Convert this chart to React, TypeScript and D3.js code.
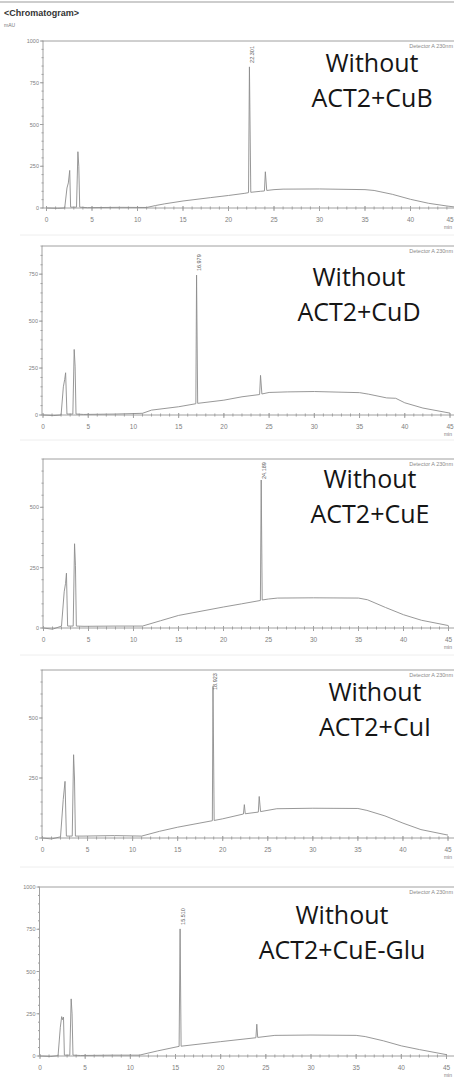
import React from "react";
import * as d3 from "d3";

// retention time (min), signal (mAU)
const traceCuB: [number, number][] = [
  [0, 0], [1.2, -2], [2.0, 0], [2.25, 120], [2.4, 150], [2.55, 225], [2.65, 5],
  [3.3, 5], [3.45, 337], [3.55, 250], [3.65, 5], [4.5, 2], [8, 4], [11, 3],
  [12, 15], [13, 25], [15, 42], [18, 62], [20, 75], [21.8, 88], [22.2, 92],
  [22.3, 845], [22.45, 94], [23.5, 100], [23.95, 102], [24.05, 217], [24.2, 105],
  [25, 110], [26, 113], [30, 114], [35, 110], [36, 105], [38, 82], [40, 52],
  [42, 28], [44, 12], [45, 5],
];

const traceCuD: [number, number][] = [
  [0, 0], [1.2, -3], [2.0, 0], [2.25, 150], [2.4, 190], [2.5, 225], [2.65, 5],
  [3.3, 5], [3.45, 349], [3.55, 260], [3.65, 5], [4.5, 3], [8, 5], [11, 9],
  [12, 26], [15, 44], [16.9, 60], [16.98, 745], [17.1, 62], [20, 79], [22, 97],
  [23.95, 109], [24.05, 211], [24.2, 112], [25, 120], [27, 123], [30, 125],
  [35, 119], [36, 111], [38, 91], [39, 89], [40, 65], [42, 37], [45, 10],
];

const traceCuE: [number, number][] = [
  [0, 0], [1, -5], [2.0, 8], [2.3, 150], [2.45, 185], [2.55, 227], [2.68, 8],
  [3.3, 8], [3.45, 349], [3.55, 260], [3.65, 8], [4.5, 7], [8, 8], [11, 8],
  [13, 30], [15, 52], [20, 87], [22, 100], [24.1, 114], [24.19, 613],
  [24.3, 116], [25, 120], [26, 124], [30, 125], [35, 124], [36, 117], [38, 85],
  [40, 55], [42, 32], [45, 10],
];

const traceCuI: [number, number][] = [
  [0, 0], [1, -4], [2.0, 5], [2.3, 160], [2.5, 236], [2.65, 8], [3.3, 8],
  [3.45, 347], [3.55, 250], [3.65, 8], [4.5, 8], [8, 10], [11, 8], [13, 28],
  [15, 45], [18.85, 72], [18.92, 632], [19.05, 73], [20, 80], [22.3, 100],
  [22.4, 139], [22.5, 101], [23.95, 108], [24.05, 173], [24.2, 110], [26, 122],
  [30, 124], [35, 123], [36, 115], [38, 92], [40, 62], [42, 35], [45, 12],
];

const traceCuEGlu: [number, number][] = [
  [0, 0], [1.2, -3], [2.0, 2], [2.25, 170], [2.4, 233], [2.5, 215], [2.6, 230],
  [2.7, 5], [3.3, 5], [3.45, 338], [3.55, 250], [3.65, 5], [4.5, 3], [8, 5],
  [11, 5], [13, 30], [15.4, 57], [15.51, 752], [15.62, 58], [20, 85],
  [23.9, 108], [24.0, 188], [24.1, 110], [26, 122], [30, 124], [35, 122],
  [36, 115], [38, 90], [40, 60], [42, 38], [45, 8],
];

const traces = [traceCuB, traceCuD, traceCuE, traceCuI, traceCuEGlu];
const sampleNames = ["ACT2+CuB", "ACT2+CuD", "ACT2+CuE", "ACT2+CuI", "ACT2+CuE-Glu"];
const peakLabels = ["22.301", "16.979", "24.189", "18.923", "15.510"];
const yMaxValues = [1000, 900, 700, 700, 1000];
const yTickValues = [
  [0, 250, 500, 750, 1000],
  [0, 250, 500, 750],
  [0, 250, 500],
  [0, 250, 500],
  [0, 250, 500, 750, 1000],
];

// pixel layout of each screenshot panel
const layouts = [
  { left: 43, x0: 46.5, x45: 456, top: 41, y0: 208, textX: 372, textY: 72 },
  { left: 42, x0: 43, x45: 450, top: 246, y0: 415, textX: 359, textY: 286 },
  { left: 43, x0: 43.5, x45: 448.5, top: 459, y0: 628, textX: 370, textY: 488 },
  { left: 42, x0: 42.5, x45: 448, top: 670, y0: 838, textX: 375, textY: 701 },
  { left: 39.5, x0: 40, x45: 446.5, top: 887, y0: 1056, textX: 342, textY: 924 },
];
const separators = [235, 440, 655, 867];

const W = 454;
const H = 1079;
const axisColor = "#a0a0a0";
const labelColor = "#808080";
const traceColor = "#8c8c8c";
const smallFont = "Liberation Sans, Arial, sans-serif";

function Panel({ i }: { i: number }) {
  const lay = layouts[i];
  const data = traces[i];
  const yMax = yMaxValues[i];
  const x = d3.scaleLinear().domain([0, 45]).range([lay.x0, lay.x45]);
  const y = d3.scaleLinear().domain([0, yMax]).range([lay.y0, lay.top]);
  const line = d3
    .line<[number, number]>()
    .x((d) => x(d[0]))
    .y((d) => y(d[1]));

  const peak = d3.greatest(data, (d) => d[1])!;
  const px = x(peak[0]) + 4.5;
  const py = Math.max(y(peak[1]) - 4, lay.top + 20);

  return (
    <g>
      {/* frame */}
      <line x1={lay.left} x2={W} y1={lay.top} y2={lay.top} stroke={axisColor} strokeWidth={1} />
      <line x1={lay.left} x2={lay.left} y1={lay.top} y2={lay.y0} stroke={axisColor} strokeWidth={1} />
      <line x1={lay.left} x2={W} y1={lay.y0} y2={lay.y0} stroke={axisColor} strokeWidth={1} />

      {/* y ticks */}
      {d3.range(0, yMax + 1, 50).map((v) => (
        <line key={"ym" + v} x1={lay.left - 1.5} x2={lay.left + 0.5} y1={y(v)} y2={y(v)} stroke={axisColor} />
      ))}
      {yTickValues[i].map((v) => (
        <g key={"y" + v}>
          <line x1={lay.left - 3} x2={lay.left} y1={y(v)} y2={y(v)} stroke={axisColor} />
          <text x={lay.left - 4} y={y(v) + 2} textAnchor="end" fontSize={5.5} fontFamily={smallFont} fill={labelColor}>
            {v}
          </text>
        </g>
      ))}

      {/* x ticks */}
      {d3.range(0, 46, 1).map((t) => (
        <line key={"xm" + t} x1={x(t)} x2={x(t)} y1={lay.y0 - 1.5} y2={lay.y0 + 1.5} stroke={axisColor} />
      ))}
      {d3.range(0, 46, 5).map((t) => (
        <g key={"x" + t}>
          <line x1={x(t)} x2={x(t)} y1={lay.y0 - 2} y2={lay.y0 + 3} stroke={axisColor} />
          <text
            x={Math.min(x(t), 450)}
            y={lay.y0 + 14}
            textAnchor="middle"
            fontSize={6.5}
            fontFamily={smallFont}
            fill={labelColor}
          >
            {t}
          </text>
        </g>
      ))}
      <text x={452} y={lay.y0 + 21} textAnchor="end" fontSize={5} fontFamily={smallFont} fill={labelColor}>
        min
      </text>
      <text x={453} y={lay.top + 7} textAnchor="end" fontSize={5.5} fontFamily={smallFont} fill="#8a8a8a">
        Detector A 230nm
      </text>

      {/* trace */}
      <path d={line(data) ?? ""} fill="none" stroke={traceColor} strokeWidth={0.9} strokeLinejoin="round" />

      {/* retention time of main peak */}
      <text
        transform={`translate(${px},${py}) rotate(-90)`}
        fontSize={5.5}
        fontFamily={smallFont}
        fill="#5a5a5a"
      >
        {peakLabels[i]}
      </text>

      {/* sample annotation */}
      <text x={lay.textX} y={lay.textY} textAnchor="middle" fontSize={25} fontFamily="Open Sans, sans-serif" fill="#151515">
        Without
      </text>
      <text x={lay.textX} y={lay.textY + 35} textAnchor="middle" fontSize={25} fontFamily="Open Sans, sans-serif" fill="#151515">
        {sampleNames[i]}
      </text>
    </g>
  );
}

export default function App() {
  return (
    <div style={{ position: "absolute", left: 0, top: 0 }}>
      <svg width={W} height={H} style={{ display: "block", background: "#fff" }}>
        <line x1={0} x2={W} y1={2} y2={2} stroke="#bdbdbd" strokeWidth={1.5} />
        {separators.map((s) => (
          <line key={s} x1={20} x2={W} y1={s} y2={s} stroke="#eeeeee" strokeWidth={1} />
        ))}
        <text x={4} y={16} fontSize={9} fontWeight="bold" fontFamily={smallFont} fill="#333">
          {"<Chromatogram>"}
        </text>
        <text x={4} y={27} fontSize={5} fontFamily={smallFont} fill="#777">
          mAU
        </text>
        {traces.map((_, i) => (
          <Panel key={i} i={i} />
        ))}
      </svg>
    </div>
  );
}
